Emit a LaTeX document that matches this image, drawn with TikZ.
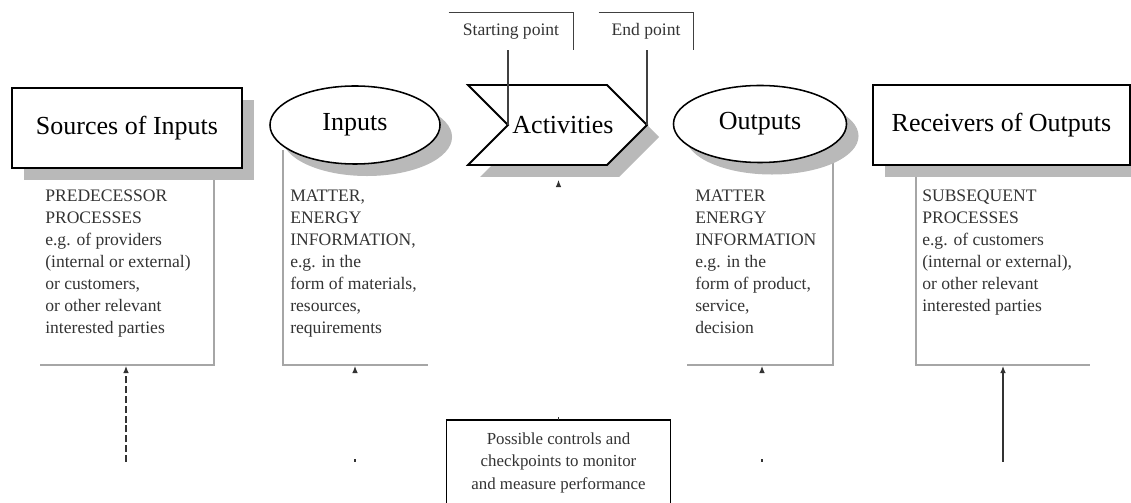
\documentclass[tikz,border=0pt]{standalone}
\usepackage{fontspec}
\setmainfont{Liberation Serif}
\usetikzlibrary{shapes.geometric,shadows,arrows.meta}

\newcommand\boxheadfont{\fontsize{18.5}{22}\selectfont}
\newcommand\itemsfont{\fontsize{12.5}{15.6}\selectfont}
\newcommand\lblfont{\fontsize{12.5}{15}\selectfont}

\tikzset{
  shade3d/.style={drop shadow={shadow xshift=0.3cm, shadow yshift=-0.3cm, fill=gray!55, opacity=1}},
  titlebox/.style={draw, line width=1.6pt, fill=white, minimum height=2cm, inner sep=0pt, font=\boxheadfont, shade3d},
  titleoval/.style={ellipse, draw, line width=1.1pt, fill=white, inner sep=0pt, font=\boxheadfont, shade3d},
  listtext/.style={anchor=north west, align=left, inner sep=0pt, text=black!80, font=\itemsfont},
  toplabel/.style={minimum height=0.925cm, inner sep=0pt, text=black!80, font=\lblfont},
  listframe/.style={draw=gray!70, line width=1.2pt},
  link/.style={draw=gray!50!black, line width=0.9pt},
  uparrow/.style={draw=gray!40!black, line width=0.8pt, -{Latex[length=5pt,width=4pt]}},
  faint/.style={dash pattern=on 2pt off 400pt},
  ctrlbox/.style={draw, line width=1pt, minimum width=5.6cm, minimum height=2.1cm, inner sep=0pt, align=center, text=black!80, font=\fontsize{12}{16}\selectfont}
}

\begin{document}
\begin{tikzpicture}[x=0.025cm, y=-0.025cm]
    \useasboundingbox (0,0) rectangle (1131,503);

    % Frames round the lists
    \draw[listframe] (40,365) -| (214,178);
    \draw[listframe] (283,150) |- (428,365);
    \draw[listframe] (687,365) -| (833,155);
    \draw[listframe] (916,176) |- (1090,365);

    % Sources and receivers
    \node[titlebox, minimum width=5.75cm] (sources) at (127,128) {Sources of Inputs};
    \node[titlebox, minimum width=6.425cm] (receivers) at (1001.5,125) {Receivers of Outputs};

    % Inputs and outputs
    \node[titleoval, minimum width=4.25cm, minimum height=1.95cm] (inputs) at (355,125) {Inputs};
    \node[titleoval, minimum width=4.325cm, minimum height=1.925cm] (outputs) at (760,124) {Outputs};

    % Activities
    \coordinate (notch) at (508,125);
    \coordinate (tip) at (647,125);
    \draw[line width=1.3pt, fill=white, shade3d] (468,85) -- (607,85) -- (tip) -- (607,165) -- (468,165) -- (notch) -- cycle;
    \node[font=\boxheadfont, inner sep=0pt] (activities) at (563,125) {Activities};

    % Starting and end point
    \node[toplabel, minimum width=3.1cm] (startlbl) at (511,31.5) {Starting point};
    \node[toplabel, minimum width=2.35cm] (endlbl) at (646,31.5) {End point};
    \draw[link] (startlbl.north west) -| (startlbl.south east);
    \draw[link] (endlbl.north west) -| (endlbl.south east);
    \draw[link] (startlbl.south -| notch) -- (notch);
    \draw[link] (endlbl.south -| tip) -- (tip);

    % Lists
    \node[listtext] (sourceslist) at (45,190) {PREDECESSOR\\PROCESSES\\e.g. of providers\\(internal or external)\\or customers,\\or other relevant\\interested parties};
    \node[listtext] (inputslist) at (290,190) {MATTER,\\ENERGY\\INFORMATION,\\e.g. in the\\form of materials,\\resources,\\requirements};
    \node[listtext] (outputslist) at (695,190) {MATTER\\ENERGY\\INFORMATION\\e.g. in the\\form of product,\\service,\\decision};
    \node[listtext] (receiverslist) at (922,190) {SUBSEQUENT\\PROCESSES\\e.g. of customers\\(internal or external),\\or other relevant\\interested parties};

    % Controls
    \node[ctrlbox] (controls) at (558.5,462.5) {Possible controls and\\checkpoints to monitor\\and measure performance};
    \draw[line width=1.8pt] (controls.north west) -- (controls.north east);

    % Arrows from below
    \coordinate (srcfoot) at (126,462);
    \coordinate (srcbase) at (126,366);
    \coordinate (infoot) at (355,462);
    \coordinate (inbase) at (355,366);
    \coordinate (outfoot) at (762,462);
    \coordinate (outbase) at (762,366);
    \coordinate (rcvfoot) at (1003,462);
    \coordinate (rcvbase) at (1003,366);
    \coordinate (actbase) at (558.5,180);
    \draw[uparrow, dash pattern=on 5pt off 2pt] (srcfoot) -- (srcbase);
    \draw[uparrow, faint] (infoot) -- (inbase);
    \draw[uparrow, faint] (outfoot) -- (outbase);
    \draw[uparrow] (rcvfoot) -- (rcvbase);
    \draw[uparrow, faint] (controls.north) -- (actbase);
\end{tikzpicture}
\end{document}
